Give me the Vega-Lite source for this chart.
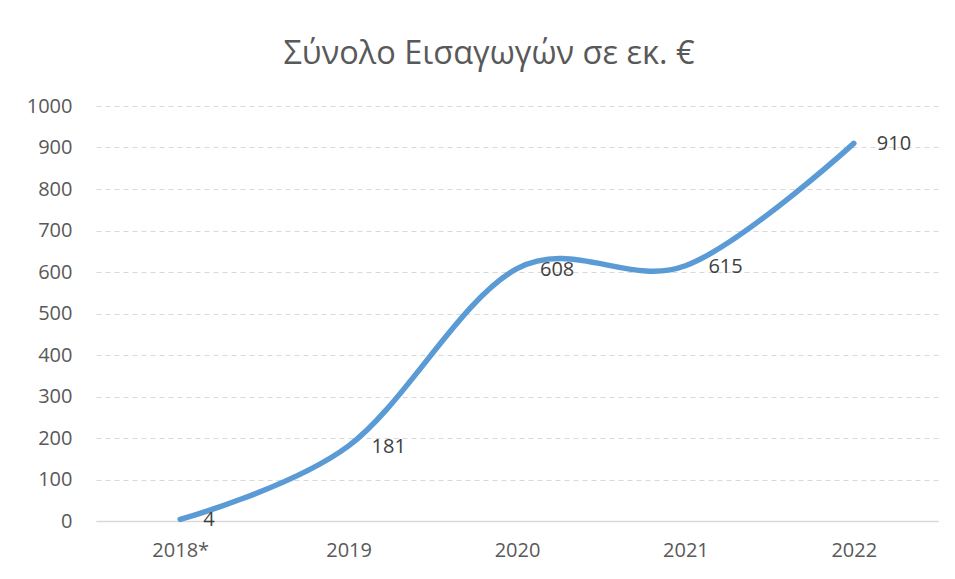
{
  "$schema": "https://vega.github.io/schema/vega-lite/v6.json",
  "width": 842,
  "height": 415,
  "autosize": "none",
  "padding": {"left": 96, "top": 106, "right": 17, "bottom": 58},
  "background": "white",
  "title": {
    "text": "Σύνολο Εισαγωγών σε εκ. €",
    "font": "Open Sans",
    "fontSize": 32.5,
    "fontWeight": "normal",
    "color": "#595959",
    "anchor": "middle",
    "dx": -28,
    "offset": 26
  },
  "data": {
    "values": [
      {"year": "2018*", "value": 4},
      {"year": "2019", "value": 181},
      {"year": "2020", "value": 608},
      {"year": "2021", "value": 615},
      {"year": "2022", "value": 910}
    ]
  },
  "config": {
    "view": {"stroke": null},
    "axis": {
      "labelFont": "Open Sans",
      "labelFontSize": 20,
      "labelColor": "#595959",
      "ticks": false,
      "title": null
    }
  },
  "encoding": {
    "x": {
      "field": "year",
      "type": "ordinal",
      "scale": {"type": "point", "padding": 0.5},
      "sort": null,
      "axis": {
        "labelAngle": 0,
        "domainColor": "#d9d9d9",
        "domainWidth": 1.5,
        "labelPadding": 19,
        "grid": false
      }
    },
    "y": {
      "field": "value",
      "type": "quantitative",
      "scale": {"domain": [0, 1000]},
      "axis": {
        "values": [0, 100, 200, 300, 400, 500, 600, 700, 800, 900, 1000],
        "format": "d",
        "domain": false,
        "labelPadding": 24,
        "gridColor": "#d9d9d9",
        "gridDash": [5, 4],
        "gridWidth": 1.2
      }
    }
  },
  "layer": [
    {
      "mark": {
        "type": "line",
        "interpolate": "cardinal",
        "color": "#5B9BD5",
        "strokeWidth": 5.5,
        "strokeCap": "round"
      }
    },
    {
      "mark": {
        "type": "text",
        "align": "left",
        "baseline": "middle",
        "dx": 23,
        "dy": 1,
        "font": "Open Sans",
        "fontSize": 20,
        "color": "#404040"
      },
      "encoding": {"text": {"field": "value", "type": "quantitative"}}
    }
  ]
}
